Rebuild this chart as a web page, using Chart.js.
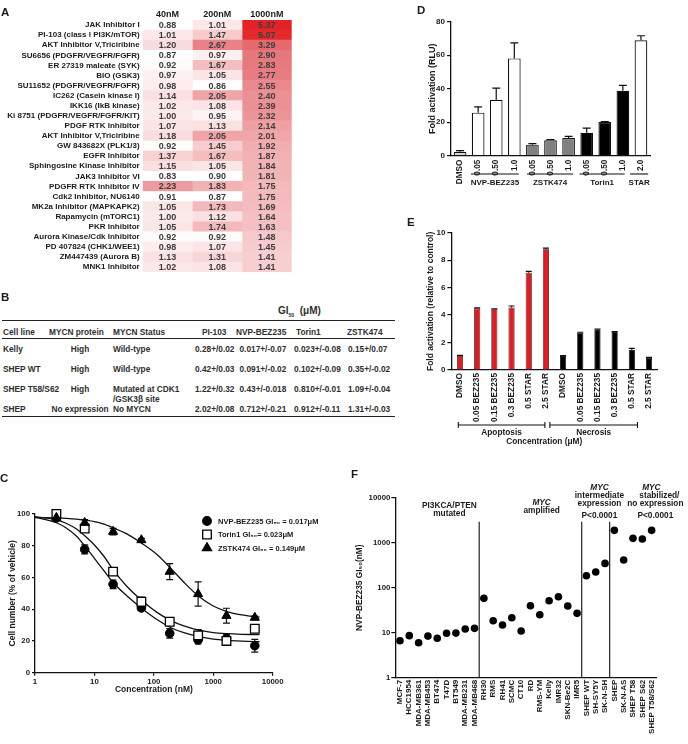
<!DOCTYPE html>
<html>
<head>
<meta charset="utf-8">
<script src="https://cdn.jsdelivr.net/npm/chart.js"></script>
<style>
  html, body { margin: 0; padding: 0; background: #fff; }
  #fig { position: relative; width: 688px; height: 744px; overflow: hidden;
         font-family: 'Liberation Sans', Arial, Helvetica, sans-serif; color: #1a1a1a; }
  canvas { position: absolute; }
  .panel { position: absolute; font-weight: bold; font-size: 11.5px; line-height: 12px; }
  .tb { position: absolute; font-weight: bold; font-size: 8.3px; line-height: 10px; white-space: nowrap; color: #2e2e2e; }
  .rule { position: absolute; left: 2px; width: 393px; background: #222; }
</style>
</head>
<body>
<div id="fig">
  <canvas id="chartA" width="300" height="280" style="left:0;top:0;width:300px;height:280px"></canvas>
  <canvas id="chartC" width="345" height="245" style="left:0;top:455px;width:345px;height:245px"></canvas>
  <canvas id="chartD" width="288" height="195" style="left:400px;top:0;width:288px;height:195px"></canvas>
  <canvas id="chartE" width="288" height="250" style="left:400px;top:200px;width:288px;height:250px"></canvas>
  <canvas id="chartF" width="343" height="284" style="left:345px;top:460px;width:343px;height:284px"></canvas>
  <div id="tableB"></div>
  <div class="panel" style="left:1px;top:6px">A</div>
  <div class="panel" style="left:1px;top:291px">B</div>
  <div class="panel" style="left:0;top:472px">C</div>
  <div class="panel" style="left:417px;top:4px">D</div>
  <div class="panel" style="left:407px;top:216px">E</div>
  <div class="panel" style="left:351px;top:468px">F</div>
</div>
<script>
// ---- A: kinase inhibitor screen (fold change) ----
const doseLabels = ['40nM', '200nM', '1000nM'];
const drugNames = ['JAK Inhibitor I', 'PI-103 (class I PI3K/mTOR)', 'AKT Inhibitor V,Triciribine',
  'SU6656 (PDGFR/VEGFR/FGFR)', 'ER 27319 maleate (SYK)', 'BIO (GSK3)', 'SU11652 (PDGFR/VEGFR/FGFR)',
  'IC262 (Casein kinase I)', 'IKK16 (IkB kinase)', 'Ki 8751 (PDGFR/VEGFR/FGFR/KIT)', 'PDGF RTK Inhibitor',
  'AKT Inhibitor V,Triciribine', 'GW 843682X (PLK1/3)', 'EGFR Inhibitor', 'Sphingosine Kinase Inhibitor',
  'JAK3 Inhibitor VI', 'PDGFR RTK Inhibitor IV', 'Cdk2 Inhibitor, NU6140', 'MK2a Inhibitor (MAPKAPK2)',
  'Rapamycin (mTORC1)', 'PKR Inhibitor', 'Aurora Kinase/Cdk Inhibitor', 'PD 407824 (CHK1/WEE1)',
  'ZM447439 (Aurora B)', 'MNK1 Inhibitor'];
const fold40 = [0.88, 1.01, 1.20, 0.87, 0.92, 0.97, 0.98, 1.14, 1.02, 1.00, 1.07, 1.18, 0.92, 1.37, 1.15,
  0.83, 2.23, 0.91, 1.05, 1.00, 1.05, 0.92, 0.98, 1.13, 1.02];
const fold200 = [1.01, 1.47, 2.67, 0.97, 1.67, 1.05, 0.86, 2.05, 1.08, 0.95, 1.13, 2.05, 1.45, 1.67, 1.05,
  0.90, 1.83, 0.87, 1.73, 1.12, 1.74, 0.92, 1.07, 1.31, 1.08];
const fold1000 = [5.37, 5.07, 3.29, 2.90, 2.83, 2.77, 2.55, 2.40, 2.39, 2.32, 2.14, 2.01, 1.92, 1.87, 1.84,
  1.81, 1.75, 1.75, 1.69, 1.64, 1.63, 1.48, 1.45, 1.41, 1.41];

// ---- B: GI50 table ----
const cellLines = ['Kelly', 'SHEP WT', 'SHEP T58/S62', 'SHEP'];
const mycnProtein = ['High', 'High', 'High', 'No expression'];
const mycnStatus = ['Wild-type', 'Wild-type', 'Mutated at CDK1\n/GSK3\u03B2 site', 'No MYCN'];
const gi50PI103 = ['0.28+/0.02', '0.42+/0.03', '1.22+/0.32', '2.02+/0.08'];
const gi50BEZ235 = ['0.017+/-0.07', '0.091+/-0.02', '0.43+/-0.018', '0.712+/-0.21'];
const gi50Torin1 = ['0.023+/-0.08', '0.102+/-0.09', '0.810+/-0.01', '0.912+/-0.11'];
const gi50ZSTK474 = ['0.15+/0.07', '0.35+/-0.02', '1.09+/-0.04', '1.31+/-0.03'];

// ---- C: dose response ----
const cConc = [2.29, 6.86, 20.6, 61.7, 185, 556, 1667, 5000];
const bezMean = [97.5, 77.7, 55.7, 40.8, 24.8, 20.6, 21.6, 17.0];
const bezErr = [0, 2.8, 2.7, 1.5, 3.0, 2.5, 2.3, 4.0];
const torinMean = [100, 90.8, 63.7, 44.7, 32.1, 23.5, 20.0, 27.7];
const torinErr = [0, 1.5, 1.5, 3.0, 1.0, 3.6, 2.0, 1.0];
const zstkMean = [97.7, 94.5, 88.9, 83.6, 63.7, 49.6, 35.9, 34.7];
const zstkErr = [1.0, 2.0, 2.0, 1.0, 5.0, 7.6, 4.7, 1.0];
// fitted curves
const curveConc = [1, 2.3, 3.4, 5, 7, 10, 14, 21, 35, 63, 113, 190, 320, 575, 1000, 1700, 3000, 6000];
const bezCurve = [98, 94.5, 91, 86, 79.5, 72, 65, 56.5, 48.5, 40.5, 33.5, 28.5, 25.2, 22.7, 21.2, 20.4, 19.9, 19.5];
const torinCurve = [98.3, 96.3, 94, 90.5, 86, 80.5, 74, 64.5, 54.5, 45.5, 38, 33, 29.5, 26.8, 25.3, 24.6, 24.2, 24];
const zstkCurve = [97.8, 97.6, 97.3, 96.8, 96.1, 95.2, 93.8, 91.2, 87.5, 81.5, 74.5, 66, 57, 48, 42, 38.5, 36.4, 35];

// ---- D: reporter activation ----
const dLabels = ['DMSO', '0.05', '0.50', '1.0', '0.05', '0.50', '1.0', '0.05', '0.50', '1.0', '2.0'];
const dValues = [2.4, 25.7, 33.4, 58.1, 6.6, 9.2, 10.5, 13.7, 20.1, 38.8, 68.9];
const dErrors = [0.6, 3.4, 7.0, 9.2, 0.6, 0.4, 1.0, 2.8, 0.3, 3.2, 2.7];

// ---- E: apoptosis / necrosis ----
const eLabels = ['DMSO', '0.05 BEZ235', '0.15 BEZ235', '0.3 BEZ235', '0.5 STAR', '2.5 STAR',
  'DMSO', '0.05 BEZ235', '0.15 BEZ235', '0.3 BEZ235', '0.5 STAR', '2.5 STAR'];
const eValues = [1.02, 4.49, 4.42, 4.56, 7.09, 8.79, 1.02, 2.72, 2.91, 2.77, 1.46, 0.90];
const eErrors = [0.05, 0.04, 0.03, 0.10, 0.10, 0.09, 0.03, 0.03, 0.06, 0.03, 0.12, 0.02];

// ---- F: GI50 across cell lines ----
const fLabels = ['MCF-7', 'HCC1954', 'MDA-MB361', 'MDA-MB453', 'BT474', 'T47D', 'BT549', 'MDA-MB231',
  'MDA-MB468', 'RH30', 'RMS', 'RH41', 'SCMC', 'CT10', 'RD', 'RMS-YM', 'Kelly', 'IMR32', 'SKN-Be2C', 'IMR5',
  'SHEP WT', 'SH-SY5Y', 'SK-N-SH', 'SHEP', 'SK-N-AS', 'SHEP T58', 'SHEP S62', 'SHEP T58/S62'];
const fValues = [6.6, 8.6, 6.0, 8.4, 7.5, 9.7, 9.8, 12.1, 12.5, 58, 18.5, 14.8, 21.5, 10.9, 39.8, 25.1,
  51.4, 63, 39.1, 26.9, 185, 223, 347, 1880, 412, 1248, 1205, 1880];

const fam = "'Liberation Sans', Arial, Helvetica, sans-serif";
Chart.defaults.font.family = fam;
Chart.defaults.font.weight = 'bold';
Chart.defaults.color = '#1a1a1a';
Chart.defaults.animation = false;
Chart.defaults.responsive = false;
Chart.defaults.plugins.legend.display = false;
Chart.defaults.plugins.tooltip.enabled = false;

const tickGrid = () => ({ display: true, drawOnChartArea: false, drawTicks: true, tickLength: 4, color: '#111', lineWidth: 1.2 });
const noGrid = () => ({ display: false, drawTicks: false });
const axisLine = () => ({ display: true, color: '#111', width: 1.3 });
const decades = s => { s.ticks = [1, 10, 100, 1000, 10000].filter(v => v >= s.min && v <= s.max).map(v => ({ value: v })); };

// heat colour ramp (white -> red)
const heatStops = [[0.9, [255, 255, 255]], [1.0, [252, 233, 234]], [1.5, [246, 201, 203]], [2.0, [240, 168, 171]],
  [2.5, [234, 138, 143]], [3.0, [229, 114, 119]], [3.5, [227, 100, 106]], [5.0, [229, 44, 48]], [5.5, [226, 30, 36]]];
function heatColor(v) {
  if (!(v > heatStops[0][0])) return 'rgb(255,255,255)';
  for (let i = 1; i < heatStops.length; i++) {
    if (v <= heatStops[i][0]) {
      const [v0, c0] = heatStops[i - 1], [v1, c1] = heatStops[i];
      const t = (v - v0) / (v1 - v0);
      return 'rgb(' + c0.map((a, k) => Math.round(a + (c1[k] - a) * t)).join(',') + ')';
    }
  }
  return 'rgb(226,30,36)';
}

// error bars from dataset.errors (upwards only unless errorBoth)
const errorBars = {
  id: 'errorBars',
  beforeDatasetsDraw(chart) {
    const ctx = chart.ctx;
    chart.data.datasets.forEach((ds, di) => {
      if (!ds.errors) return;
      const meta = chart.getDatasetMeta(di);
      const ys = chart.scales[meta.yAxisID];
      meta.data.forEach((el, i) => {
        const err = ds.errors[i];
        if (!err) return;
        const raw = ds.data[i];
        const v = typeof raw === 'object' ? raw.y : raw;
        const cap = ds.errorCap || 4;
        const hi = ys.getPixelForValue(v + err);
        const lo = ds.errorBoth ? ys.getPixelForValue(v - err) : ys.getPixelForValue(v);
        ctx.save();
        ctx.strokeStyle = '#111';
        ctx.lineWidth = 1.2;
        ctx.beginPath();
        ctx.moveTo(el.x, lo); ctx.lineTo(el.x, hi);
        ctx.moveTo(el.x - cap, hi); ctx.lineTo(el.x + cap, hi);
        if (ds.errorBoth) { ctx.moveTo(el.x - cap, lo); ctx.lineTo(el.x + cap, lo); }
        ctx.stroke();
        ctx.restore();
      });
    });
  }
};

// values written inside heatmap cells
const cellValues = {
  id: 'cellValues',
  afterDatasetsDraw(chart) {
    const ctx = chart.ctx;
    ctx.save();
    ctx.font = 'bold 9px ' + fam;
    ctx.fillStyle = '#3c3c3c';
    ctx.textAlign = 'center';
    ctx.textBaseline = 'middle';
    chart.data.datasets.forEach((ds, di) => {
      chart.getDatasetMeta(di).data.forEach((bar, i) => {
        const p = bar.getCenterPoint();
        ctx.fillText(ds.values[i].toFixed(2), p.x, p.y + 0.5);
      });
    });
    ctx.restore();
  }
};

// group underlines / brackets below a category axis
function groupRules(cfg) {
  return {
    id: 'groupRules',
    afterDraw(chart) {
      const { ctx, chartArea } = chart;
      const x = chart.scales.x;
      const ly = chartArea.bottom + cfg.lineY, ty = chartArea.bottom + cfg.textY;
      ctx.save();
      ctx.strokeStyle = '#111'; ctx.fillStyle = '#1a1a1a'; ctx.lineWidth = 1.1;
      ctx.textAlign = 'center'; ctx.textBaseline = 'middle';
      ctx.font = 'bold ' + cfg.size + 'px ' + fam;
      cfg.groups.forEach(g => {
        const x1 = x.getPixelForValue(g.from), x2 = x.getPixelForValue(g.to);
        ctx.beginPath();
        ctx.moveTo(x1, ly); ctx.lineTo(x2, ly);
        if (cfg.caps) {
          ctx.moveTo(x1, ly - 3); ctx.lineTo(x1, ly + 3);
          ctx.moveTo(x2, ly - 3); ctx.lineTo(x2, ly + 3);
        }
        ctx.stroke();
        ctx.fillText(g.label, (x1 + x2) / 2, ty);
      });
      if (cfg.title) ctx.fillText(cfg.title, x.getPixelForValue(cfg.titleAt), chartArea.bottom + cfg.titleY);
      ctx.restore();
    }
  };
}

function drawMarker(ctx, style, x, y, r, fill) {
  ctx.beginPath();
  if (style === 'rect') {
    const s = r * Math.SQRT1_2;
    ctx.rect(x - s, y - s, 2 * s, 2 * s);
  } else if (style === 'triangle') {
    ctx.moveTo(x, y - r);
    ctx.lineTo(x + r * Math.sin(2 * Math.PI / 3), y + r * 0.5);
    ctx.lineTo(x - r * Math.sin(2 * Math.PI / 3), y + r * 0.5);
    ctx.closePath();
  } else {
    ctx.arc(x, y, r, 0, Math.PI * 2);
  }
  ctx.fillStyle = fill;
  ctx.fill();
  ctx.strokeStyle = '#000';
  ctx.lineWidth = 1.3;
  ctx.stroke();
}

// legend inside panel C
const doseLegend = {
  id: 'doseLegend',
  afterDraw(chart) {
    const { ctx, chartArea } = chart;
    ctx.save();
    chart.data.datasets.filter(ds => ds.label).forEach((ds, k) => {
      const mx = chartArea.left + 172, my = chartArea.top + 7 + k * 13.5;
      drawMarker(ctx, ds.pointStyle, mx, my, ds.pointRadius, ds.backgroundColor);
      ctx.font = 'bold 7.5px ' + fam;
      ctx.fillStyle = '#1a1a1a';
      ctx.textAlign = 'left';
      ctx.textBaseline = 'middle';
      ctx.fillText(ds.label, mx + 11, my + 0.5);
    });
    ctx.restore();
  }
};

// dividers and group headings of panel F
const fGroups = {
  id: 'fGroups',
  afterDraw(chart) {
    const { ctx, chartArea } = chart;
    const x = chart.scales.x, y = chart.scales.y;
    ctx.save();
    ctx.strokeStyle = '#111';
    ctx.lineWidth = 1.1;
    [8.5, 19.5, 22.5].forEach(d => {
      const px = x.getPixelForValue(d);
      ctx.beginPath();
      ctx.moveTo(px, y.getPixelForValue(2930));
      ctx.lineTo(px, chartArea.bottom);
      ctx.stroke();
    });
    const heads = [
      { at: 5.3, lines: [['PI3KCA/PTEN', 8.5], ['mutated', 16]] },
      { at: 15.2, lines: [['MYC', 5, true], ['amplified', 13.3]] },
      { at: 21.4, lines: [['MYC', -10, true], ['intermediate', -2], ['expression', 5.6], ['P<0.0001', 18]] },
      { at: 27.4, lines: [['MYC', -10, true, -4], ['stabilized/', -2, false, 4], ['no expression', 5.6], ['P<0.0001', 18]] }
    ];
    ctx.fillStyle = '#1a1a1a';
    ctx.textAlign = 'center';
    ctx.textBaseline = 'middle';
    heads.forEach(h => {
      const px = x.getPixelForValue(h.at);
      h.lines.forEach(([text, dy, italic, dx]) => {
        ctx.font = (italic ? 'italic ' : '') + 'bold 8.3px ' + fam;
        ctx.fillText(text, px + (dx || 0), chartArea.top + dy);
      });
    });
    ctx.restore();
  }
};

// ---------- A ----------
const heatColumns = [fold40, fold200, fold1000];
new Chart(document.getElementById('chartA'), {
  type: 'bar',
  data: {
    labels: drugNames,
    datasets: heatColumns.map((vals, i) => ({
      label: doseLabels[i],
      data: drugNames.map(() => 1),
      values: vals,
      backgroundColor: c => heatColor(vals[c.dataIndex]),
      borderWidth: 0,
      barPercentage: 1,
      categoryPercentage: 1
    }))
  },
  options: {
    indexAxis: 'y',
    layout: { padding: { left: 0, right: 8.3, top: 0, bottom: 6.7 } },
    scales: {
      x: {
        type: 'linear', position: 'top', stacked: true, min: 0, max: 3,
        grid: noGrid(), border: { display: false },
        afterBuildTicks: s => { s.ticks = doseLabels.map((d, i) => ({ value: i + 0.5 })); },
        ticks: { font: { size: 9 }, padding: 0, callback: v => doseLabels[Math.floor(v)] },
        afterFit: s => { s.height = 20; }
      },
      y: {
        stacked: true, grid: noGrid(), border: { display: false },
        ticks: { font: { size: 8 }, padding: 3, autoSkip: false },
        afterFit: s => { s.width = 142.7; }
      }
    }
  },
  plugins: [cellValues]
});

// ---------- B (table) ----------
(function buildTable() {
  const host = document.getElementById('tableB');
  const put = (html, x, y, align, extra) => {
    const d = document.createElement('div');
    d.className = 'tb';
    d.innerHTML = html;
    d.style.top = (y - 5) + 'px';
    d.style.left = x + 'px';
    if (align === 'center') d.style.transform = 'translateX(-50%)';
    if (extra) Object.assign(d.style, extra);
    host.appendChild(d);
  };
  const rule = (y, h) => {
    const r = document.createElement('div');
    r.className = 'rule';
    r.style.top = y + 'px';
    r.style.height = h + 'px';
    host.appendChild(r);
  };
  rule(319.5, 1.5); rule(338, 1); rule(415.5, 1.5);
  put('GI<sub style="font-size:5px">50</sub>&nbsp;&nbsp;(\u03BCM)', 278, 311, 'left', { fontSize: '10px' });
  const headY = 332.3;
  [['Cell line', 3], ['MYCN protein', 49], ['MYCN Status', 113], ['PI-103', 202], ['NVP-BEZ235', 236],
   ['Torin1', 296], ['ZSTK474', 347]].forEach(([t, x]) => put(t, x, headY));
  const rowY = [348.7, 369, 389.3, 409];
  const cols = [[cellLines, 3, 'left'], [mycnProtein, 80, 'center'], [mycnStatus, 113, 'left'],
    [gi50PI103, 195, 'left'], [gi50BEZ235, 239.5, 'left'], [gi50Torin1, 294, 'left'], [gi50ZSTK474, 348, 'left']];
  cols.forEach(([cells, x, align]) => {
    cells.forEach((txt, r) => {
      txt.split('\n').forEach((line, k) => put(line, x, rowY[r] + k * 9.7, align));
    });
  });
})();

// ---------- C ----------
const xy = (xs, ys) => xs.map((x, i) => ({ x, y: ys[i] }));
const curveStyle = { type: 'line', showLine: true, pointRadius: 0, borderColor: '#111', borderWidth: 1.3,
  cubicInterpolationMode: 'monotone', fill: false, order: 5 };
new Chart(document.getElementById('chartC'), {
  type: 'scatter',
  data: {
    datasets: [
      { label: 'NVP-BEZ235 GI\u2085\u2080 = 0.017\u03BCM', data: xy(cConc, bezMean), errors: bezErr, errorBoth: true,
        errorCap: 3.5, pointStyle: 'circle', pointRadius: 4.3, backgroundColor: '#000', borderColor: '#000', order: 3, clip: false },
      { label: 'Torin1 GI\u2085\u2080= 0.023\u03BCM', data: xy(cConc, torinMean), errors: torinErr, errorBoth: true,
        errorCap: 3.5, pointStyle: 'rect', pointRadius: 6.1, backgroundColor: '#fff', borderColor: '#000', borderWidth: 1.3, order: 2, clip: false },
      { label: 'ZSTK474 GI\u2085\u2080 = 0.149\u03BCM', data: xy(cConc, zstkMean), errors: zstkErr, errorBoth: true,
        errorCap: 3.5, pointStyle: 'triangle', pointRadius: 5.3, backgroundColor: '#000', borderColor: '#000', order: 1, clip: false },
      Object.assign({ data: xy(curveConc, bezCurve) }, curveStyle),
      Object.assign({ data: xy(curveConc, torinCurve) }, curveStyle),
      Object.assign({ data: xy(curveConc, zstkCurve) }, curveStyle)
    ]
  },
  options: {
    layout: { padding: { left: 7.6, right: 72.3, top: 59, bottom: 5.6 } },
    scales: {
      x: {
        type: 'logarithmic', min: 1, max: 10000,
        grid: Object.assign(tickGrid(), { tickLength: 3 }), border: axisLine(),
        afterBuildTicks: decades,
        ticks: { font: { size: 7.8 }, padding: 1, callback: v => String(v) },
        title: { display: true, text: 'Concentration (nM)', font: { size: 8.5, weight: 'bold' }, padding: 0 },
        afterFit: s => { s.height = 21.7; }
      },
      y: {
        min: 0, max: 100,
        grid: Object.assign(tickGrid(), { tickLength: 3 }), border: axisLine(),
        ticks: { stepSize: 20, font: { size: 7.8 }, padding: 2 },
        title: { display: true, text: 'Cell number (% of vehicle)', font: { size: 8.5, weight: 'bold' }, padding: 0 },
        afterFit: s => { s.width = 27.4; }
      }
    }
  },
  plugins: [errorBars, doseLegend]
});

// ---------- D ----------
const dFill = ['#d4d4d4', '#fff', '#fff', '#fff', '#808080', '#808080', '#808080', '#000', '#000', '#000', '#fff'];
new Chart(document.getElementById('chartD'), {
  type: 'bar',
  data: {
    labels: dLabels,
    datasets: [{ data: dValues, errors: dErrors, errorCap: 4, backgroundColor: dFill, borderColor: '#111',
      borderWidth: 1.2, barPercentage: 0.7, categoryPercentage: 1 }]
  },
  options: {
    layout: { padding: { left: 27, right: 38, top: 21.7, bottom: 0 } },
    scales: {
      x: {
        grid: noGrid(), border: axisLine(),
        ticks: { font: { size: 8.2 }, minRotation: 90, maxRotation: 90, autoSkip: false, padding: 4 },
        afterFit: s => { s.height = 39.3; }
      },
      y: {
        min: 0, max: 80, grid: tickGrid(), border: axisLine(),
        ticks: { stepSize: 20, font: { size: 8 }, padding: 2 },
        title: { display: true, text: 'Fold activation (RLU)', font: { size: 9, weight: 'bold' }, padding: 0 },
        afterFit: s => { s.width = 24; }
      }
    }
  },
  plugins: [errorBars, groupRules({
    size: 8, lineY: 18.3, textY: 27.3,
    groups: [{ label: 'NVP-BEZ235', from: 0.6, to: 3.25 }, { label: 'ZSTK474', from: 3.7, to: 6.25 },
             { label: 'Torin1', from: 6.6, to: 9.1 }, { label: 'STAR', from: 9.4, to: 10.4 }]
  })]
});

// ---------- E ----------
const eFill = eValues.map((v, i) => i < 6 ? '#d42026' : '#000');
const eEdge = eValues.map((v, i) => i < 6 ? '#4a0a0a' : '#000');
new Chart(document.getElementById('chartE'), {
  type: 'bar',
  data: {
    labels: eLabels,
    datasets: [{ data: eValues, errors: eErrors, errorCap: 3, backgroundColor: eFill, borderColor: eEdge,
      borderWidth: 0.8, barPercentage: 0.36, categoryPercentage: 1 }]
  },
  options: {
    layout: { padding: { left: 25.6, right: 30.4, top: 32.7, bottom: 0 } },
    scales: {
      x: {
        grid: noGrid(), border: axisLine(),
        ticks: { font: { size: 8.3 }, minRotation: 90, maxRotation: 90, autoSkip: false, padding: 3 },
        afterFit: s => { s.height = 80; }
      },
      y: {
        min: 0, max: 10, grid: tickGrid(), border: axisLine(),
        ticks: { stepSize: 2, font: { size: 8 }, padding: 2 },
        title: { display: true, text: 'Fold activation (relative to control)', font: { size: 8.5, weight: 'bold' }, padding: 0 },
        afterFit: s => { s.width = 25.8; }
      }
    }
  },
  plugins: [errorBars, groupRules({
    size: 8.3, lineY: 55, textY: 62.3, caps: true,
    groups: [{ label: 'Apoptosis', from: -0.1, to: 4.94 }, { label: 'Necrosis', from: 5.23, to: 10.33 }],
    title: 'Concentration (\u03BCM)', titleAt: 4.9, titleY: 71.7
  })]
});

// ---------- F ----------
new Chart(document.getElementById('chartF'), {
  type: 'line',
  data: {
    labels: fLabels,
    datasets: [{ data: fValues, showLine: false, pointRadius: 3.8, pointBackgroundColor: '#000',
      pointBorderColor: '#000', pointBorderWidth: 0, clip: false }]
  },
  options: {
    layout: { padding: { left: 9.6, right: 31.7, top: 37.7, bottom: 0 } },
    scales: {
      x: {
        offset: true, grid: noGrid(), border: axisLine(),
        ticks: { font: { size: 8 }, minRotation: 90, maxRotation: 90, autoSkip: false, padding: 2 },
        afterFit: s => { s.height = 66.3; }
      },
      y: {
        type: 'logarithmic', min: 1, max: 10000, grid: tickGrid(), border: axisLine(),
        afterBuildTicks: decades,
        ticks: { font: { size: 7.8 }, padding: 1, callback: v => String(v) },
        title: { display: true, text: 'NVP-BEZ235 GI\u2085\u2080(nM)', font: { size: 8.3, weight: 'bold' }, padding: 0 },
        afterFit: s => { s.width = 40.7; }
      }
    }
  },
  plugins: [fGroups]
});
</script>
</body>
</html>
